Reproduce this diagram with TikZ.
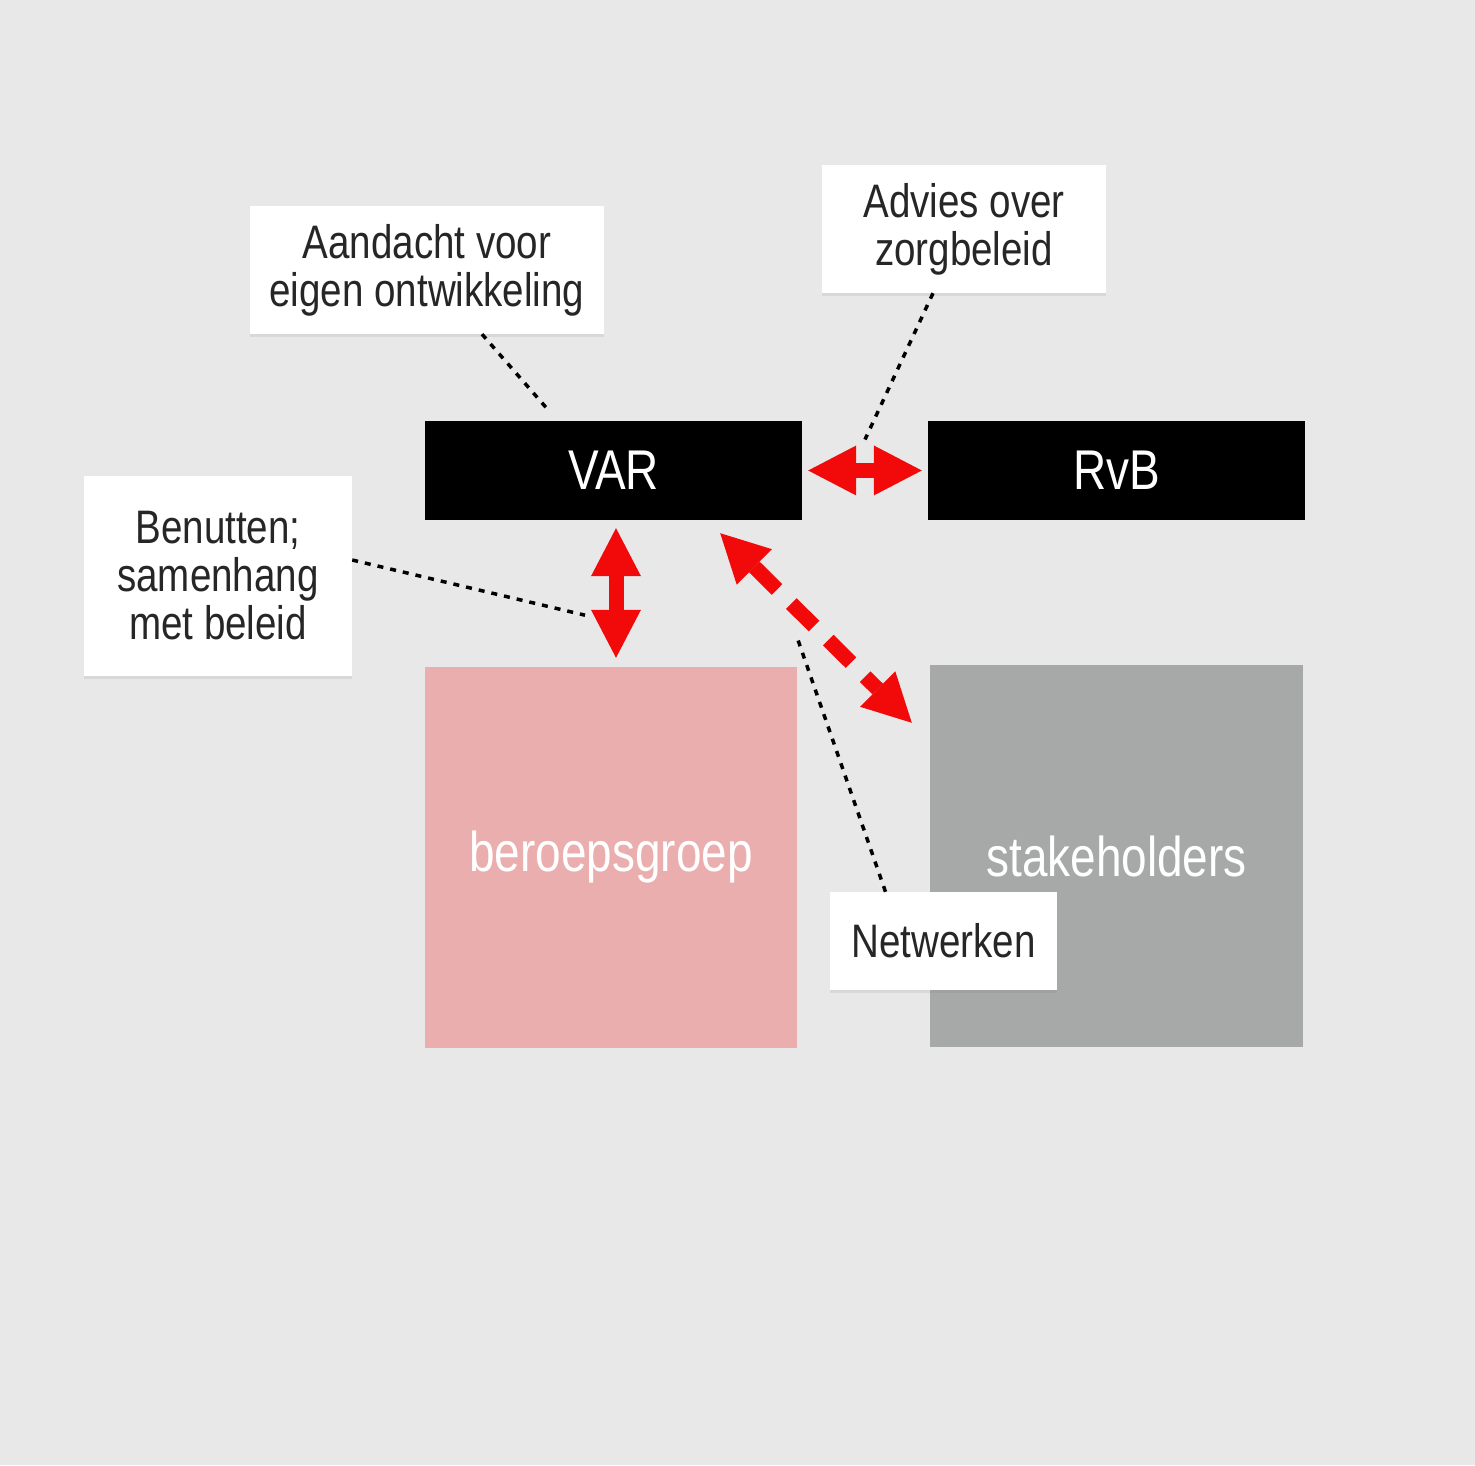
\documentclass[tikz,border=0pt]{standalone}
\usepackage{fontspec}
\setmainfont{Liberation Sans}[FakeStretch=0.82]
\usetikzlibrary{arrows.meta,calc,shadows}
\definecolor{bgGray}{HTML}{E8E8E8}
\definecolor{relRed}{HTML}{F20A0A}
\definecolor{groepPink}{HTML}{EBAEAE}
\definecolor{stakeGray}{HTML}{A6A9A8}

\begin{document}
\begin{tikzpicture}[
  % one unit is one pixel of the layout, origin bottom left
  x=1pt,
  y=1pt,
  bar/.style={fill=black, text=white, minimum width=377pt, minimum height=99pt,
    inner sep=0pt, font=\fontsize{56}{60}\selectfont},
  block/.style={text=white, minimum width=373pt, minimum height=382pt,
    inner sep=0pt, font=\fontsize{56}{60}\selectfont},
  callout/.style={fill=white, align=center, inner sep=0pt, text=black!85,
    font=\fontsize{47}{48}\selectfont,
    drop shadow={shadow xshift=0pt, shadow yshift=-3pt, opacity=0.15}},
  relation/.style={draw=relRed, line width=15pt,
    {Triangle[width=50pt,length=48pt,line width=0pt]}-{Triangle[width=50pt,length=48pt,line width=0pt]}},
  pointer/.style={line width=3.5pt, dash pattern=on 6pt off 7pt}
]

% Background sheet
\fill[bgGray] (0,0) rectangle (1475,1465);
\useasboundingbox (0,0) rectangle (1475,1465);

% 1) The two black bars
\node[bar] (var) at (613.5,994.5) {VAR};
\node[bar] (rvb) at (1116.5,994.5) {RvB};

% 2) The two big blocks below
\node[block, fill=groepPink, minimum width=372pt, minimum height=381pt] (groep) at (611,607.5) {beroepsgroep};
\node[block, fill=stakeGray] (stake) at (1116.5,609) {stakeholders};

% 3) White callouts
\node[callout, minimum width=354pt, minimum height=128pt] (aandacht) at (427,1195) {Aandacht voor\\eigen ontwikkeling};
\node[callout, minimum width=284pt, minimum height=128pt] (advies) at (964,1236) {Advies over\\zorgbeleid};
\node[callout, minimum width=268pt, minimum height=200pt] (benutten) at (218,889) {Benutten;\\samenhang\\met beleid};
\node[callout, minimum width=227pt, minimum height=98pt] (netwerken) at (943.5,524) {Netwerken};

% 4) Red relations
\draw[relation, shorten <=6pt, shorten >=6pt] (var) -- (rvb);
\draw[relation, shorten <=8pt, shorten >=9pt] ([xshift=2.5pt]var.south) -- ([xshift=2.5pt]var.south |- groep.north);
% dashed one towards the stakeholders
\draw[relation, dash pattern=on 32pt off 20pt] ([shift={(-82pt,-13pt)}]var.south east) -- ([shift={(-18pt,-58pt)}]stake.north west);

% 5) Dotted pointers from the callouts
\draw[pointer] ([xshift=55pt]aandacht.south) -- ([shift={(125pt,9pt)}]var.north west);
\draw[pointer] ([xshift=-31pt]advies.south) -- ([yshift=31pt]$(var.east)!0.5!(rvb.west)$);
\draw[pointer] ([yshift=16pt]benutten.east) -- ([shift={(-28.5pt,-95pt)}]var.south);
\draw[pointer] ([xshift=-58pt]netwerken.north) -- ([yshift=29pt]groep.north east);

\end{tikzpicture}
\end{document}
